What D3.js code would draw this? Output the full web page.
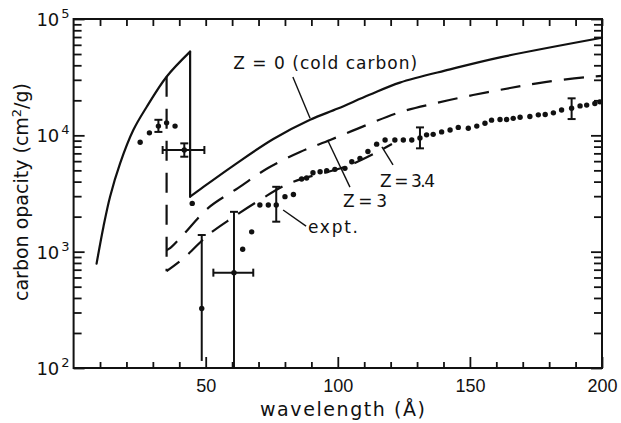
<!DOCTYPE html>
<html lang="en">
  <head>
    <meta charset="UTF-8" />
    <title>Carbon opacity vs wavelength</title>
    <script src="https://d3js.org/d3.v7.min.js"></script>
    <style>
      body {
        margin: 0;
        background: #fff;
      }
      svg {
        display: block;
        font-family: "DejaVu Sans", sans-serif;
      }
      .frame {
        fill: none;
        stroke: #111;
        stroke-width: 2px;
      }
      .tick line {
        stroke: #111;
        stroke-width: 1.8px;
      }
      .domain {
        display: none;
      }
      .curve {
        fill: none;
        stroke: #111;
        stroke-width: 2.2px;
        stroke-linecap: round;
      }
      .dashed {
        stroke-dasharray: 20 12;
        stroke-linecap: butt;
      }
      .err,
      .leader {
        stroke: #111;
        stroke-width: 2px;
      }
      .leader {
        stroke-width: 1.4px;
      }
      .dot {
        fill: #111;
      }
      .tick text,
      .lbl {
        font-size: 18px;
        fill: #111;
      }
      .note {
        font-size: 17px;
        fill: #111;
      }
    </style>
  </head>
  <body>
    <svg id="chart"></svg>
    <script>
      const width = 621;
      const height = 423;

      // Z = 0 (cold carbon): rising edge, K-edge drop, then second branch
      const solidRise = [
        [8.7, 790], [11.3, 1640], [13.8, 2970], [17.6, 5740], [22.6, 11100],
        [27.7, 17600], [35.2, 31900], [44.1, 52400]
      ];
      const solidEdge = [[44.1, 52400], [44.1, 2970]];
      const solidTail = [
        [44.1, 2970], [48, 3450], [60.5, 5500], [75.6, 9300], [89.5, 13600],
        [100, 17000], [112, 22300], [123.5, 28400], [142.5, 36900],
        [161.4, 46800], [200, 69000]
      ];

      // dashed curves (Z = 3 upper, Z = 3.4 lower), shared vertical edge
      const dashEdge = [[35.2, 31900], [35.2, 680]];
      const dashZ3 = [
        [35.2, 1030], [36.5, 1070], [41.4, 1390], [50.9, 2370], [62.2, 3520],
        [73.6, 5240], [85.7, 7180], [97.1, 9120], [111, 12300], [123.5, 15800],
        [137.5, 19000], [151.2, 22200], [165.2, 25500], [178.4, 28700],
        [194.3, 31700], [200, 32400]
      ];
      const dashZ34 = [
        [35.2, 680], [42.2, 900], [50.9, 1390], [60, 1950], [70.5, 2780],
        [81.9, 3890], [104.6, 5560], [120.5, 8410]
      ];

      // experimental points
      const exptWave = [
        25.2, 28.7, 32.1, 35.2, 38.4, 41.9, 44.9, 48.5, 60.7, 64, 67.4, 70.5,
        73.7, 76.7, 80, 83.2, 86.3, 88.2, 90.6, 93.3, 95.8, 98.9, 102.7, 105.3,
        108.4, 111.4, 114.7, 117.9, 121.6, 124.8, 128, 131.1, 133.6, 136.1,
        139.3, 142.5, 145.6, 149.4, 152.6, 155.7, 158.2, 161.4, 163.9, 166.4,
        169, 172.7, 175.9, 178.5, 181.6, 184.7, 188.5, 191.7, 194.2, 197.3, 199.2
      ];
      const exptOpacity = [
        8710, 10500, 12000, 12800, 12000, 7480, 2600, 325, 660, 1050, 1480, 2520,
        2520, 2520, 2970, 3100, 4210, 4300, 4770, 4870, 4970, 5100, 5200, 5930,
        6340, 7270, 8400, 9120, 9120, 9120, 9120, 9480, 10100, 10200,
        10700, 11100, 11700, 11500, 12000, 12700, 13500, 13700, 13700, 14000,
        14300, 14500, 15000, 15100, 15600, 16500, 17100, 17900, 18200, 18800, 19400
      ];

      // error bars: wavelength, opacity, low, high, x-range, bottom cap
      const errorBars = [
        { w: 32.1, lo: 10700, hi: 13600, capLo: true },
        { w: 41.9, v: 7480, lo: 6550, hi: 8530, wlo: 33.7, whi: 49.5, capLo: true },
        { w: 48.5, lo: 115, hi: 1390, capLo: false },
        { w: 60.7, v: 660, lo: 100, hi: 2200, wlo: 52.9, whi: 68, capLo: false },
        { w: 76.7, lo: 1810, hi: 3610, capLo: true },
        { w: 131.1, lo: 7730, hi: 11700, capLo: true },
        { w: 188.5, lo: 13800, hi: 20800, capLo: true }
      ];

      const labels = [
        { text: "Z = 0 (cold carbon)", w: 60.4, v: 37200, len: 184 },
        { text: "Z = 3", w: 102, v: 2420, len: 44 },
        { text: "Z = 3.4", w: 116, v: 3590, len: 55 },
        { text: "expt.", w: 88.7, v: 1445, len: 50 }
      ];
      const leaders = [
        [[83, 31700], [89.5, 14000]],
        [[104.6, 3590], [96.3, 8930]],
        [[120.9, 5560], [116.7, 7940]],
        [[79.3, 2280], [88, 1660]]
      ];

      const xMinor = d3.range(10, 200, 10).filter((d) => d % 50 !== 0);
      const xMajor = [50, 100, 150, 200];
      const decades = [100, 1000, 10000, 100000];
      const decadeExp = ["2", "3", "4", "5"];
      const yMinor = [];
      [100, 1000, 10000].forEach((d) => {
        for (let k = 2; k <= 9; k++) yMinor.push(d * k);
      });

      const margin = { top: 19, right: 19, bottom: 55, left: 73.6 };

      const x = d3
        .scaleLinear()
        .domain([0, 200])
        .range([margin.left, width - margin.right]);
      const y = d3
        .scaleLog()
        .domain([100, 100000])
        .range([height - margin.bottom, margin.top]);

      const svg = d3
        .select("#chart")
        .attr("width", width)
        .attr("height", height);

      const x0 = x.range()[0], x1 = x.range()[1];
      const y0 = y.range()[0], y1 = y.range()[1];

      // ticks on all four sides, pointing inward
      svg.append("g")
        .attr("transform", `translate(0,${y0})`)
        .call(d3.axisBottom(x).tickValues(xMinor).tickSize(-6).tickFormat(""));
      svg.append("g")
        .attr("transform", `translate(0,${y0})`)
        .call(d3.axisBottom(x).tickValues(xMajor).tickSize(-11).tickPadding(11).tickFormat(d3.format("d")));
      svg.append("g")
        .attr("transform", `translate(0,${y1})`)
        .call(d3.axisTop(x).tickValues(xMinor.concat(xMajor)).tickSize(-7).tickFormat(""));

      svg.append("g")
        .attr("transform", `translate(${x0},0)`)
        .call(d3.axisLeft(y).tickValues(yMinor).tickSize(-8).tickFormat(""));
      svg.append("g")
        .attr("transform", `translate(${x0},0)`)
        .call(d3.axisLeft(y).tickValues(decades).tickSize(-11).tickFormat(""));
      svg.append("g")
        .attr("transform", `translate(${x1},0)`)
        .call(d3.axisRight(y).tickValues(yMinor).tickSize(-8).tickFormat(""));
      svg.append("g")
        .attr("transform", `translate(${x1},0)`)
        .call(d3.axisRight(y).tickValues(decades).tickSize(-11).tickFormat(""));

      // y tick labels 10^n
      decades.forEach((d, i) => {
        const t = svg.append("text")
          .attr("class", "lbl")
          .attr("x", x0 - 4)
          .attr("y", y(d) + 7)
          .attr("text-anchor", "end");
        t.append("tspan").text("10");
        t.append("tspan")
          .attr("dx", 2)
          .attr("dy", -8)
          .attr("font-size", 13)
          .text(decadeExp[i]);
      });

      svg.append("rect")
        .attr("class", "frame")
        .attr("x", x0)
        .attr("y", y1)
        .attr("width", x1 - x0)
        .attr("height", y0 - y1);

      const line = d3.line().x((d) => x(d[0])).y((d) => y(d[1]));
      const curved = d3.line()
        .x((d) => x(d[0]))
        .y((d) => y(d[1]))
        .curve(d3.curveCatmullRom.alpha(0.5));

      svg.append("path").attr("class", "curve").attr("d", curved(solidRise));
      svg.append("path").attr("class", "curve").attr("d", line(solidEdge));
      svg.append("path").attr("class", "curve").attr("d", curved(solidTail));

      svg.append("path").attr("class", "curve dashed").attr("d", line(dashEdge));
      svg.append("path").attr("class", "curve dashed")
        .style("stroke-dashoffset", 6)
        .attr("d", curved(dashZ3));
      svg.append("path").attr("class", "curve dashed")
        .style("stroke-dashoffset", 4)
        .attr("d", curved(dashZ34));

      // error bars
      errorBars.forEach((e) => {
        const g = svg.append("g").attr("class", "err");
        const cx = x(e.w);
        const ylo = Math.min(y(e.lo), y0);
        g.append("line").attr("x1", cx).attr("x2", cx).attr("y1", y(e.hi)).attr("y2", ylo);
        g.append("line").attr("x1", cx - 4).attr("x2", cx + 4).attr("y1", y(e.hi)).attr("y2", y(e.hi));
        if (e.capLo) {
          g.append("line").attr("x1", cx - 4).attr("x2", cx + 4).attr("y1", ylo).attr("y2", ylo);
        }
        if (e.wlo !== undefined) {
          const cy = y(e.v);
          g.append("line").attr("x1", x(e.wlo)).attr("x2", x(e.whi)).attr("y1", cy).attr("y2", cy);
          g.append("line").attr("x1", x(e.wlo)).attr("x2", x(e.wlo)).attr("y1", cy - 4).attr("y2", cy + 4);
          g.append("line").attr("x1", x(e.whi)).attr("x2", x(e.whi)).attr("y1", cy - 4).attr("y2", cy + 4);
        }
      });

      svg.append("g")
        .selectAll("circle")
        .data(exptWave)
        .join("circle")
        .attr("class", "dot")
        .attr("cx", (d) => x(d))
        .attr("cy", (d, i) => y(exptOpacity[i]))
        .attr("r", 2.7);

      // annotations
      leaders.forEach((l) => {
        svg.append("path").attr("class", "leader").attr("d", line(l));
      });
      labels.forEach((l) => {
        svg.append("text")
          .attr("class", "note")
          .attr("x", x(l.w))
          .attr("y", y(l.v))
          .attr("textLength", l.len)
          .attr("lengthAdjust", "spacing")
          .text(l.text);
      });

      // axis titles
      svg.append("text")
        .attr("class", "lbl")
        .attr("x", 260)
        .attr("y", 416)
        .style("font-size", "19px")
        .attr("textLength", 165)
        .attr("lengthAdjust", "spacing")
        .text("wavelength (Å)");

      const yt = svg.append("text")
        .attr("class", "lbl")
        .style("font-size", "19px")
        .attr("text-anchor", "middle")
        .attr("transform", "translate(28,192) rotate(-90)");
      yt.append("tspan").text("carbon opacity (cm");
      yt.append("tspan").attr("dy", -7).style("font-size", "13px").text("2");
      yt.append("tspan").attr("dy", 7).text("/g)");
    </script>
  </body>
</html>
